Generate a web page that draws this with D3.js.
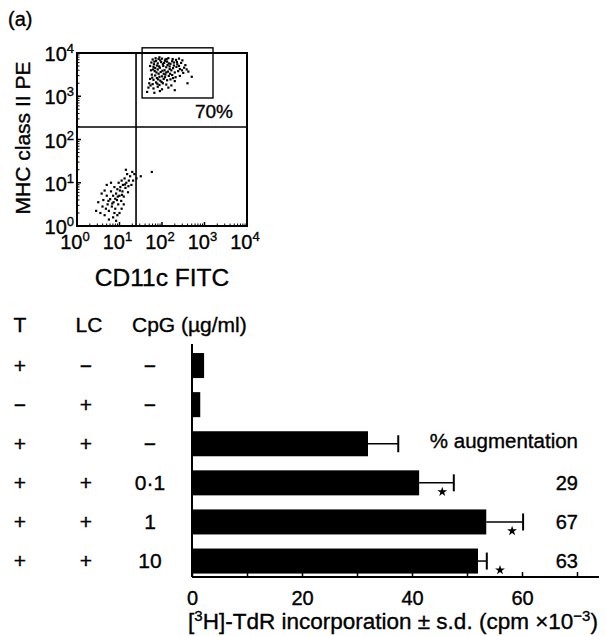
<!DOCTYPE html>
<html><head><meta charset="utf-8">
<script src="https://cdn.jsdelivr.net/npm/d3@7"></script>
<style>body{margin:0;background:#fff}svg{display:block}text{font-family:"Liberation Sans",Arial,Helvetica,sans-serif;fill:#000;stroke:#000;stroke-width:0.35px}</style>
</head><body>
<svg id="c" width="606" height="636"></svg>
<script>
// ---------- Data ----------
// Flow cytometry dot plot (log10 units)
const decades = [0, 1, 2, 3, 4];
const quadrantX = 24.5;   // CD11c FITC threshold
const quadrantY = 195;    // MHC class II PE threshold
const gateX = [34, 1585];
const gateY = [912, 13180];
const gatePercent = "70%";
const highCluster = [
 [1.78,3.85],[1.85,3.88],[1.92,3.86],[2.0,3.87],[2.08,3.85],[2.15,3.88],[2.25,3.86],[2.33,3.84],[2.4,3.87],[2.48,3.83],
 [1.75,3.78],[1.82,3.8],[1.9,3.76],[1.98,3.79],[2.05,3.77],[2.12,3.8],[2.2,3.75],[2.28,3.78],[2.36,3.74],[2.45,3.77],[2.55,3.72],
 [1.72,3.7],[1.8,3.68],[1.88,3.71],[1.95,3.66],[2.03,3.7],[2.1,3.67],[2.18,3.69],[2.26,3.65],[2.34,3.68],[2.42,3.63],[2.52,3.66],
 [1.74,3.6],[1.83,3.58],[1.9,3.62],[1.97,3.56],[2.06,3.6],[2.14,3.57],[2.22,3.6],[2.3,3.55],[2.38,3.58],[2.5,3.54],[2.62,3.57],
 [1.76,3.5],[1.84,3.48],[1.92,3.52],[2.0,3.46],[2.08,3.5],[2.16,3.47],[2.24,3.49],[2.32,3.44],[2.42,3.47],
 [1.72,3.4],[1.8,3.38],[1.88,3.42],[1.96,3.36],[2.04,3.4],[2.12,3.37],[2.2,3.39],[2.3,3.35],
 [1.7,3.3],[1.78,3.28],[1.86,3.32],[1.94,3.26],[2.02,3.3],[2.1,3.27],[2.22,3.25],
 [1.68,3.2],[1.8,3.18],[1.9,3.22],[2.0,3.16],[2.15,3.2],
 [1.65,3.1],[1.82,3.08],[1.95,3.12],[2.3,3.14],[2.6,3.3],[2.7,3.45],
 [1.86,3.82],[2.02,3.74],[2.18,3.63],[1.94,3.45],[2.1,3.55],[1.84,3.65],[2.28,3.71],[1.99,3.33],
 [1.81,3.74],[1.87,3.55],[1.93,3.69],[2.01,3.59],[2.07,3.82],[2.13,3.72],[2.19,3.52],[2.24,3.81],
 [1.79,3.62],[1.96,3.83],[2.04,3.52],[2.16,3.76],[2.35,3.79],[1.91,3.39],[2.07,3.44],[1.77,3.43],
 [2.4,3.7],[2.47,3.6],[2.58,3.62],[1.73,3.25],[1.89,3.29],[2.26,3.42],[2.11,3.86],[1.94,3.9]
];
const lowCluster = [
 [0.45,0.35],[0.5,0.55],[0.55,0.3],[0.6,0.45],[0.62,0.6],[0.65,0.25],[0.68,0.4],[0.7,0.7],[0.72,0.5],[0.75,0.35],
 [0.78,0.62],[0.8,0.8],[0.82,0.45],[0.85,0.7],[0.86,0.55],[0.88,0.9],[0.9,0.4],[0.92,0.75],[0.94,0.6],[0.95,0.85],
 [0.97,0.5],[0.98,1.0],[1.0,0.7],[1.02,0.9],[1.04,0.58],[1.05,1.05],[1.07,0.8],[1.08,0.95],[1.1,0.68],[1.12,1.1],
 [1.14,0.88],[1.16,1.0],[1.18,1.2],[1.2,0.78],[1.22,1.05],[1.25,1.15],[1.28,0.95],[1.3,1.25],[1.32,1.05],[1.35,1.2],
 [0.75,0.15],[0.85,0.2],[0.95,0.25],[1.0,0.3],[0.92,0.12],[0.58,0.75],[0.7,0.95],[1.15,1.3],[1.4,1.1],[1.5,1.15],
 [0.88,0.3],[1.05,0.4],[0.8,1.0],[1.1,0.5],[0.65,0.82],[1.76,1.25],
 [0.9,0.63],[1.01,0.82],[1.13,0.96],[0.83,0.52],[0.96,0.68],[1.21,0.92],[0.74,0.58],[1.06,0.72]
];

// Proliferation bar chart
const colT   = ["+", "\u2212", "+", "+", "+", "+"];
const colLC  = ["\u2212", "+", "+", "+", "+", "+"];
const colCpG = ["\u2212", "\u2212", "\u2212", "0\u00b71", "1", "10"];
const means  = [2.2, 1.5, 32, 41.3, 53.5, 52];
const sdTop  = [null, null, 37.5, 47.6, 60.2, 53.6];
const starAt = [null, null, null, 45.5, 58.2, 56];
const augmentation = [null, null, null, 29, 67, 63];
const xTicks = [0, 10, 20, 30, 40, 50, 60, 70];
const xTickLabels = [0, 20, 40, 60];

// ---------- Drawing ----------
const svg = d3.select("#c");
const FONT_TICK = 20;

svg.append("text").attr("x", 8).attr("y", 26).attr("font-size", 20).text("(a)");

// Top dot plot
const fx = d3.scaleLog().domain([1, 1e4]).range([77, 247]);
const fy = d3.scaleLog().domain([1, 1e4]).range([226, 53]);
const gTop = svg.append("g");

// minor + major ticks (inward)
const minor = [];
decades.slice(0, 4).forEach(d => { for (let k = 2; k <= 9; k++) minor.push(k * Math.pow(10, d)); });
gTop.selectAll(".mxt").data(minor).join("line")
  .attr("x1", d => fx(d)).attr("x2", d => fx(d)).attr("y1", 226).attr("y2", 223.5)
  .attr("stroke", "#000").attr("stroke-width", 1);
gTop.selectAll(".myt").data(minor).join("line")
  .attr("y1", d => fy(d)).attr("y2", d => fy(d)).attr("x1", 77).attr("x2", 79.5)
  .attr("stroke", "#000").attr("stroke-width", 1);
gTop.selectAll(".Mxt").data(decades).join("line")
  .attr("x1", d => fx(Math.pow(10, d))).attr("x2", d => fx(Math.pow(10, d))).attr("y1", 226).attr("y2", 222)
  .attr("stroke", "#000").attr("stroke-width", 1.5);
gTop.selectAll(".Myt").data(decades).join("line")
  .attr("y1", d => fy(Math.pow(10, d))).attr("y2", d => fy(Math.pow(10, d))).attr("x1", 77).attr("x2", 81)
  .attr("stroke", "#000").attr("stroke-width", 1.5);

// frame
gTop.append("rect").attr("x", fx(1)).attr("y", fy(1e4)).attr("width", fx(1e4) - fx(1)).attr("height", fy(1) - fy(1e4))
  .attr("fill", "none").attr("stroke", "#000").attr("stroke-width", 2);
// quadrant lines
gTop.append("line").attr("x1", fx(quadrantX)).attr("x2", fx(quadrantX)).attr("y1", fy(1)).attr("y2", fy(1e4))
  .attr("stroke", "#000").attr("stroke-width", 1.6);
gTop.append("line").attr("x1", fx(1)).attr("x2", fx(1e4)).attr("y1", fy(quadrantY)).attr("y2", fy(quadrantY))
  .attr("stroke", "#000").attr("stroke-width", 1.4);
// gate
gTop.append("rect").attr("x", fx(gateX[0])).attr("y", fy(gateY[1]))
  .attr("width", fx(gateX[1]) - fx(gateX[0])).attr("height", fy(gateY[0]) - fy(gateY[1]))
  .attr("fill", "none").attr("stroke", "#000").attr("stroke-width", 1.4);

// dots
const dots = highCluster.concat(lowCluster);
gTop.selectAll(".dot").data(dots).join("rect")
  .attr("x", d => fx(Math.pow(10, d[0])) - 1.1).attr("y", d => fy(Math.pow(10, d[1])) - 1.1)
  .attr("width", 2.2).attr("height", 2.2).attr("fill", "#000");

gTop.append("text").attr("x", 214).attr("y", 118).attr("text-anchor", "middle").attr("font-size", 19).text(gatePercent);

// tick labels
function pow10Label(sel, d) {
  sel.append("tspan").text("10");
  sel.append("tspan").attr("font-size", 13).attr("dy", -8).text(d);
}
decades.forEach(d => {
  const t = gTop.append("text").attr("x", 74).attr("y", fy(Math.pow(10, d)) + 8)
    .attr("text-anchor", "end").attr("font-size", FONT_TICK);
  pow10Label(t, d);
  const u = gTop.append("text").attr("x", fx(Math.pow(10, d)) - 2).attr("y", 249)
    .attr("text-anchor", "middle").attr("font-size", FONT_TICK);
  pow10Label(u, d);
});
gTop.append("text").attr("x", 162).attr("y", 286).attr("text-anchor", "middle").attr("font-size", 24.5).text("CD11c FITC");
gTop.append("text").attr("transform", "translate(30,138) rotate(-90)").attr("text-anchor", "middle")
  .attr("font-size", 21).text("MHC class II PE");

// Bottom bar chart
const bx = d3.scaleLinear().domain([0, 74]).range([192, 599]);
const rows = d3.range(means.length);
const by = d3.scaleBand().domain(rows).range([346, 580.6]).paddingInner(0.36).paddingOuter(0.18);
const bot = svg.append("g");

// headers
const hdrY = 332;
bot.append("text").attr("x", 20).attr("y", hdrY).attr("text-anchor", "middle").attr("font-size", 21).text("T");
bot.append("text").attr("x", 89).attr("y", hdrY).attr("text-anchor", "middle").attr("font-size", 21).text("LC");
bot.append("text").attr("x", 132).attr("y", hdrY).attr("font-size", 21).text("CpG (\u00b5g/ml)");

const cols = [[colT, 20], [colLC, 86], [colCpG, 150]];
cols.forEach(([arr, cx]) => {
  bot.selectAll(null).data(rows).join("text")
    .attr("x", cx).attr("y", i => by(i) + by.bandwidth() / 2 + 7)
    .attr("text-anchor", "middle").attr("font-size", 21).text(i => arr[i]);
});

// bars
bot.selectAll(".bar").data(rows).join("rect")
  .attr("x", bx(0)).attr("y", i => by(i)).attr("width", i => bx(means[i]) - bx(0)).attr("height", by.bandwidth())
  .attr("fill", "#000");

// error bars
const errRows = rows.filter(i => sdTop[i] != null);
bot.selectAll(".eb").data(errRows).join("line")
  .attr("x1", i => bx(means[i])).attr("x2", i => bx(sdTop[i]))
  .attr("y1", i => by(i) + by.bandwidth() / 2).attr("y2", i => by(i) + by.bandwidth() / 2)
  .attr("stroke", "#000").attr("stroke-width", 1.5);
bot.selectAll(".cap").data(errRows).join("line")
  .attr("x1", i => bx(sdTop[i])).attr("x2", i => bx(sdTop[i]))
  .attr("y1", i => by(i) + by.bandwidth() / 2 - 8.5).attr("y2", i => by(i) + by.bandwidth() / 2 + 8.5)
  .attr("stroke", "#000").attr("stroke-width", 2);

// significance stars
const starRows = rows.filter(i => starAt[i] != null);
bot.selectAll(".star").data(starRows).join("path")
  .attr("d", d3.symbol(d3.symbolStar, 30))
  .attr("transform", i => `translate(${bx(starAt[i])},${by(i) + by.bandwidth() / 2 + 9})`)
  .attr("fill", "#000");

// augmentation
bot.append("text").attr("x", 578).attr("y", by(2) + by.bandwidth() / 2 + 4).attr("text-anchor", "end")
  .attr("font-size", 20.5).text("% augmentation");
bot.selectAll(".aug").data(rows.filter(i => augmentation[i] != null)).join("text")
  .attr("x", 578).attr("y", i => by(i) + by.bandwidth() / 2 + 7).attr("text-anchor", "end")
  .attr("font-size", 20).text(i => augmentation[i]);

// axes
bot.append("line").attr("x1", bx(0)).attr("x2", bx(0)).attr("y1", 344).attr("y2", 577).attr("stroke", "#000").attr("stroke-width", 2);
const ax = bot.append("g").attr("transform", "translate(0,577)")
  .call(d3.axisBottom(bx).tickValues(xTicks).tickSize(-5).tickSizeOuter(0)
    .tickFormat(d => xTickLabels.includes(d) ? d : ""));
ax.select(".domain").attr("stroke-width", 2).attr("d", `M${bx(0)},0H${bx(74)}`);
ax.selectAll(".tick line").attr("stroke-width", 1.5);
ax.selectAll(".tick text").attr("y", 28).attr("dy", 0).attr("font-size", FONT_TICK)
  .attr("font-family", '"Liberation Sans",Arial,sans-serif').attr("fill", "#000");

const tt = bot.append("text").attr("x", 393).attr("y", 629).attr("text-anchor", "middle").attr("font-size", 22.5);
tt.append("tspan").text("[");
tt.append("tspan").attr("font-size", 15).attr("dy", -8).text("3");
tt.append("tspan").attr("dy", 8).text("H]-TdR incorporation \u00b1 s.d. (cpm \u00d710");
tt.append("tspan").attr("font-size", 15).attr("dy", -8).text("\u22123");
tt.append("tspan").attr("dy", 8).text(")");
</script>
</body></html>
